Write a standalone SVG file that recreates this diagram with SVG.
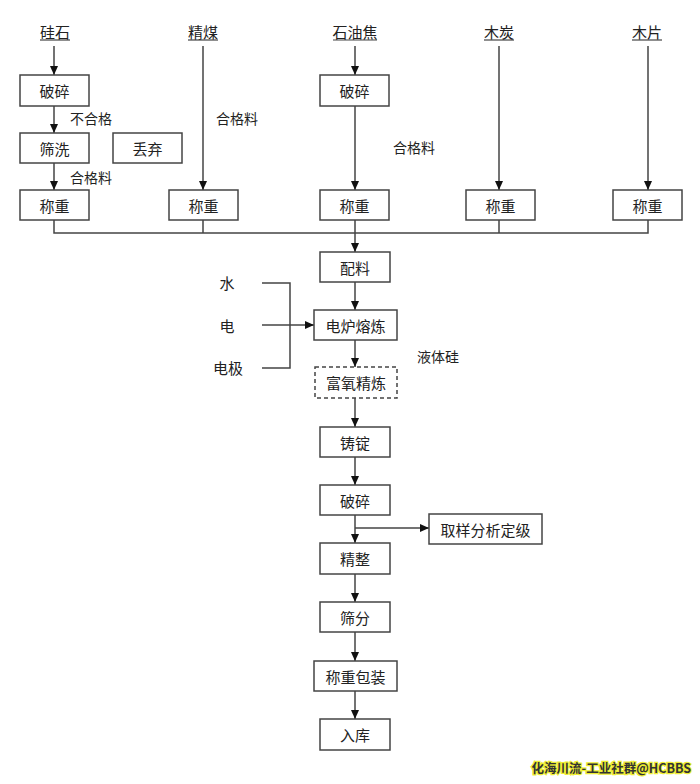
<svg xmlns="http://www.w3.org/2000/svg" width="700" height="784" viewBox="0 0 700 784">
<style>
.b{fill:#fff;stroke:#444;stroke-width:1.5}
.d{fill:#fff;stroke:#444;stroke-width:1.5;stroke-dasharray:4 3}
.t{font-family:"Noto Sans CJK SC","Liberation Sans",sans-serif;font-size:15px;fill:#222;text-anchor:middle;dominant-baseline:central}
.l{font-family:"Noto Sans CJK SC","Liberation Sans",sans-serif;font-size:14px;fill:#222;dominant-baseline:central}
.c{fill:none;stroke:#444;stroke-width:1.5}
.u{stroke:#444;stroke-width:1.2}
.w{font-family:"Noto Sans CJK SC","Liberation Sans",sans-serif;font-size:12.5px;font-weight:bold;fill:#333;stroke:#ee3;stroke-width:2.5;paint-order:stroke;text-anchor:end}
</style>
<defs>
<marker id="a" markerUnits="userSpaceOnUse" markerWidth="10" markerHeight="10" refX="9" refY="5" orient="auto">
<path d="M0,1 L9,5 L0,9 Z" fill="#111"/>
</marker>
</defs>
<g id="connectors">
<path class="c" d="M54,46 V75" marker-end="url(#a)"/>
<path class="c" d="M54,106 V133" marker-end="url(#a)"/>
<path class="c" d="M54,163 V190" marker-end="url(#a)"/>
<path class="c" d="M203,46 V190" marker-end="url(#a)"/>
<path class="c" d="M355,46 V75" marker-end="url(#a)"/>
<path class="c" d="M355,106 V190" marker-end="url(#a)"/>
<path class="c" d="M499,46 V190" marker-end="url(#a)"/>
<path class="c" d="M648,46 V190" marker-end="url(#a)"/>
<path class="c" d="M54,220 V233 H648 V220 M203,220 V233 M355,220 V233 M499,220 V233"/>
<path class="c" d="M355,233 V252" marker-end="url(#a)"/>
<path class="c" d="M355,282 V310" marker-end="url(#a)"/>
<path class="c" d="M262,283 H290 V368 H262"/>
<path class="c" d="M262,325 H314" marker-end="url(#a)"/>
<path class="c" d="M355,340 V367" marker-end="url(#a)"/>
<path class="c" d="M355,398 V427" marker-end="url(#a)"/>
<path class="c" d="M355,457 V485" marker-end="url(#a)"/>
<path class="c" d="M355,515 V543" marker-end="url(#a)"/>
<path class="c" d="M355,528 H429" marker-end="url(#a)"/>
<path class="c" d="M355,574 V602" marker-end="url(#a)"/>
<path class="c" d="M355,632 V661" marker-end="url(#a)"/>
<path class="c" d="M355,691 V719" marker-end="url(#a)"/>
</g>
<g id="src-guishi"><text class="t" x="55" y="31">硅石</text><line class="u" x1="40" y1="40" x2="70" y2="40"/></g>
<g id="src-jingmei"><text class="t" x="203" y="31">精煤</text><line class="u" x1="188" y1="40" x2="218" y2="40"/></g>
<g id="src-shiyoujiao"><text class="t" x="355" y="31">石油焦</text><line class="u" x1="333" y1="40" x2="377" y2="40"/></g>
<g id="src-mutan"><text class="t" x="499" y="31">木炭</text><line class="u" x1="484" y1="40" x2="514" y2="40"/></g>
<g id="src-mupian"><text class="t" x="647" y="31">木片</text><line class="u" x1="632" y1="40" x2="662" y2="40"/></g>
<g id="posui1"><rect class="b" x="20" y="75" width="69" height="31"/><text class="t" x="54.5" y="90.5">破碎</text></g>
<g id="shaixi"><rect class="b" x="20" y="133" width="69" height="30"/><text class="t" x="54.5" y="148">筛洗</text></g>
<g id="diuqi"><rect class="b" x="113" y="133" width="69" height="30"/><text class="t" x="147.5" y="148">丢弃</text></g>
<g id="chengzhong1"><rect class="b" x="20" y="190" width="69" height="30"/><text class="t" x="54.5" y="205">称重</text></g>
<g id="chengzhong2"><rect class="b" x="169" y="190" width="69" height="30"/><text class="t" x="203.5" y="205">称重</text></g>
<g id="posui2"><rect class="b" x="320" y="75" width="69" height="31"/><text class="t" x="354.5" y="90.5">破碎</text></g>
<g id="chengzhong3"><rect class="b" x="320" y="190" width="69" height="30"/><text class="t" x="354.5" y="205">称重</text></g>
<g id="chengzhong4"><rect class="b" x="466" y="190" width="69" height="30"/><text class="t" x="500.5" y="205">称重</text></g>
<g id="chengzhong5"><rect class="b" x="613" y="190" width="69" height="30"/><text class="t" x="647.5" y="205">称重</text></g>
<g id="labels">
<text class="l" x="70" y="118">不合格</text>
<text class="l" x="70" y="177">合格料</text>
<text class="l" x="216" y="118">合格料</text>
<text class="l" x="393" y="147">合格料</text>
<text class="t" x="227" y="282">水</text>
<text class="t" x="227" y="325">电</text>
<text class="t" x="228" y="367">电极</text>
<text class="l" x="417" y="356">液体硅</text>
</g>
<g id="peiliao"><rect class="b" x="320" y="252" width="70" height="30"/><text class="t" x="355" y="267">配料</text></g>
<g id="dianlu"><rect class="b" x="314" y="310" width="83" height="30"/><text class="t" x="355.5" y="325">电炉熔炼</text></g>
<g id="fuyang"><rect class="d" x="315" y="367" width="82" height="31"/><text class="t" x="356" y="382.5">富氧精炼</text></g>
<g id="zhuding"><rect class="b" x="320" y="427" width="70" height="30"/><text class="t" x="355" y="442">铸锭</text></g>
<g id="posui3"><rect class="b" x="320" y="485" width="70" height="30"/><text class="t" x="355" y="500">破碎</text></g>
<g id="quyang"><rect class="b" x="429" y="514" width="113" height="30"/><text class="t" x="485.5" y="529">取样分析定级</text></g>
<g id="jingzheng"><rect class="b" x="320" y="543" width="70" height="31"/><text class="t" x="355" y="558.5">精整</text></g>
<g id="shaifen"><rect class="b" x="320" y="602" width="70" height="30"/><text class="t" x="355" y="617">筛分</text></g>
<g id="baozhuang"><rect class="b" x="314" y="661" width="83" height="30"/><text class="t" x="355.5" y="676">称重包装</text></g>
<g id="ruku"><rect class="b" x="320" y="719" width="70" height="31"/><text class="t" x="355" y="734.5">入库</text></g>
<text class="w" x="691" y="773">化海川流-工业社群@HCBBS</text>
</svg>
